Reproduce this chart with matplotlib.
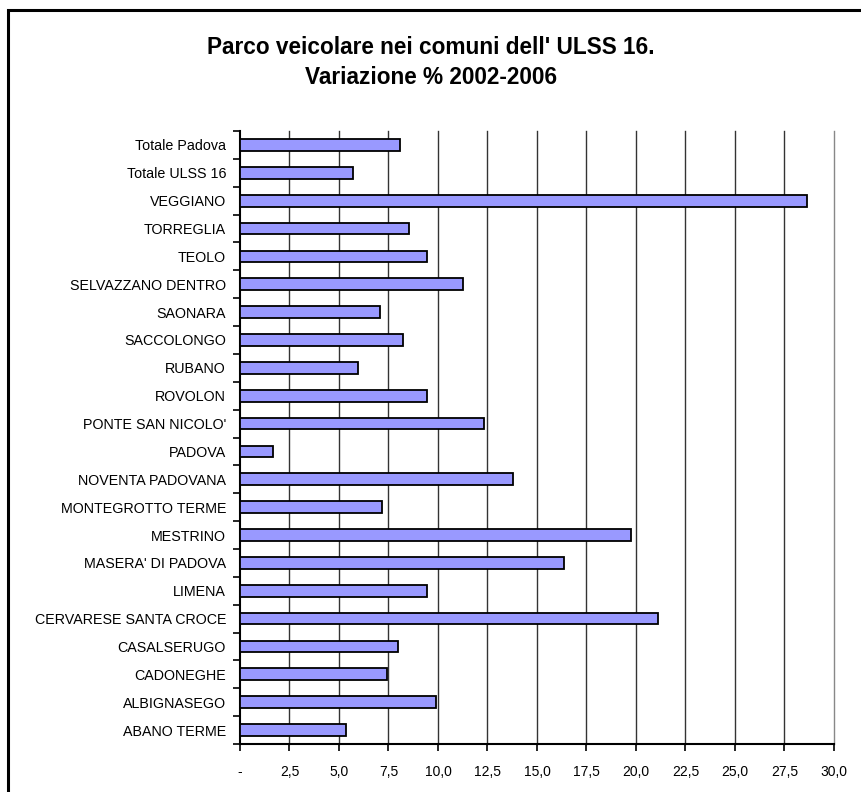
import matplotlib.pyplot as plt
from matplotlib.patches import Rectangle
import numpy as np

plt.rcParams['font.family'] = ['Liberation Sans', 'DejaVu Sans']

# Comuni (dal basso verso l'alto)
comuni = [
    'ABANO TERME', 'ALBIGNASEGO', 'CADONEGHE', 'CASALSERUGO',
    'CERVARESE SANTA CROCE', 'LIMENA', "MASERA' DI PADOVA", 'MESTRINO',
    'MONTEGROTTO TERME', 'NOVENTA PADOVANA', 'PADOVA', "PONTE SAN NICOLO'",
    'ROVOLON', 'RUBANO', 'SACCOLONGO', 'SAONARA', 'SELVAZZANO DENTRO',
    'TEOLO', 'TORREGLIA', 'VEGGIANO', 'Totale ULSS 16', 'Totale Padova'
]
# Variazione % 2002-2006
variazione = [
    5.33, 9.88, 7.42, 7.98,
    21.11, 9.44, 16.34, 19.74,
    7.15, 13.81, 1.69, 12.34,
    9.44, 5.97, 8.24, 7.08, 11.26,
    9.44, 8.53, 28.65, 5.70, 8.08
]
x_ticks = [0, 2.5, 5, 7.5, 10, 12.5, 15, 17.5, 20, 22.5, 25, 27.5, 30]
x_labels = ['-', '2,5', '5,0', '7,5', '10,0', '12,5', '15,0', '17,5',
            '20,0', '22,5', '25,0', '27,5', '30,0']

fig = plt.figure(figsize=(8.62, 7.92), dpi=100)

# cornice esterna del grafico
fig.patches.append(Rectangle((8 / 862, -0.05), 1.0, 782 / 792 + 0.05,
                             transform=fig.transFigure, fill=False,
                             edgecolor='black', linewidth=2.2))

ax = fig.add_axes([240 / 862, 48 / 792, 594 / 862, 613 / 792])

y = np.arange(len(comuni))
ax.barh(y, variazione, height=0.42, color='#9999FF', edgecolor='black',
        linewidth=1.3, zorder=3)

ax.set_xlim(0, 30)
ax.set_ylim(-0.5, len(comuni) - 0.5)

ax.set_xticks(x_ticks)
ax.set_xticklabels(x_labels, fontsize=10)
for xv in x_ticks[1:]:
    ax.axvline(xv, color='#333333' if xv < 30 else '#888888',
               linewidth=1.0, zorder=0, clip_on=False)

ax.set_yticks(y)
ax.set_yticklabels(comuni, fontsize=10.3)
ax.set_yticks(np.arange(-0.5, len(comuni), 1), minor=True)
ax.tick_params(axis='y', which='major', length=0, pad=10)
ax.tick_params(axis='y', which='minor', length=5, width=1.2, direction='out')
ax.tick_params(axis='x', length=5, width=1.2, direction='out', pad=10)

for side in ['top', 'right']:
    ax.spines[side].set_visible(False)
ax.spines['left'].set_linewidth(1.5)
ax.spines['bottom'].set_linewidth(1.5)

fig.text(0.5, 1 - 47 / 792, "Parco veicolare nei comuni dell' ULSS 16.",
         ha='center', va='center', fontsize=16.3, fontweight='bold')
fig.text(0.5, 1 - 77 / 792, "Variazione % 2002-2006",
         ha='center', va='center', fontsize=16.3, fontweight='bold')

plt.savefig('out.png', dpi=100)
